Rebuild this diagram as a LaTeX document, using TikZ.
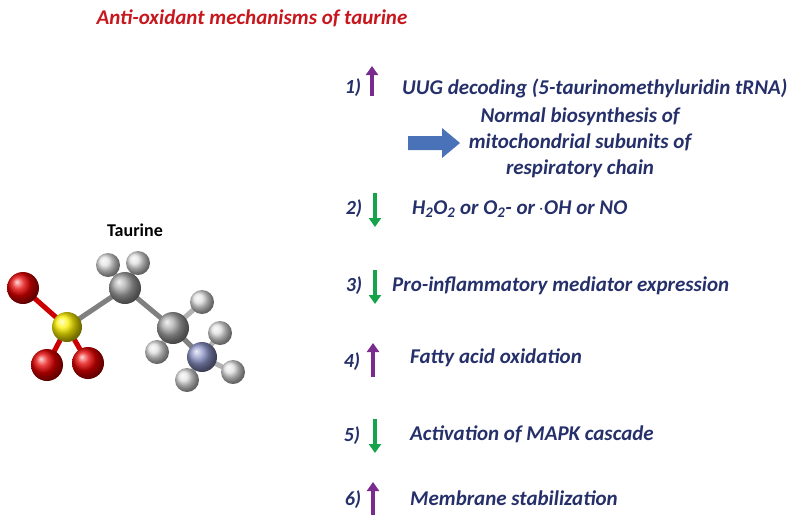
\documentclass[tikz,border=0pt]{standalone}
\usepackage{fontspec}
\setmainfont{Carlito}
\usetikzlibrary{arrows.meta}
\definecolor{navy}{HTML}{25306A}
\definecolor{titlered}{HTML}{C8161D}
\definecolor{upc}{HTML}{7A2C8E}
\definecolor{downc}{HTML}{16A34A}
\definecolor{bluearr}{HTML}{4A72B8}
\definecolor{nblue}{HTML}{8C94C8}
\tikzset{
  txt/.style={font=\fontsize{21}{25}\selectfont\bfseries\itshape, text=navy, anchor=west, inner sep=0pt},
  num/.style={font=\fontsize{20}{24}\selectfont\bfseries\itshape, text=navy, inner sep=0pt},
  up/.style={draw=upc, line width=4pt, -{Triangle[length=9pt,width=12pt]}},
  down/.style={draw=downc, line width=4pt, -{Triangle[length=9pt,width=12pt]}},
  atom/.style={circle, inner sep=0pt, minimum size=#1, draw=none},
  bond/.style={line width=5pt}
}
\begin{document}
\begin{tikzpicture}[x=1pt,y=-1pt]
\useasboundingbox (0,0) rectangle (800,520);
\node[font=\fontsize{21}{24}\selectfont\bfseries\itshape, text=titlered, anchor=west] (title) at (93,18) {Anti-oxidant mechanisms of taurine};
% molecule
\node[font=\fontsize{18}{20}\selectfont\bfseries] (lbl) at (135,230) {Taurine};
\coordinate (O1) at (23,288); \coordinate (S) at (67,327);
\coordinate (O2) at (47,365); \coordinate (O3) at (88,363);
\coordinate (C1) at (125,288); \coordinate (C2) at (173,328);
\coordinate (N) at (202,357);
\coordinate (H1) at (108,265); \coordinate (H2) at (138,263);
\coordinate (H3) at (202,302); \coordinate (H4) at (157,352);
\coordinate (H5) at (220,333); \coordinate (H6) at (233,372); \coordinate (H7) at (187,380);
\draw[bond, red!80!black] (O1) -- (S) (O2) -- (S) (O3) -- (S);
\draw[bond, gray] (S) -- (C1) -- (C2) -- (N);
\draw[bond, gray!60] (C1) -- (H1) (C1) -- (H2) (C2) -- (H3) (C2) -- (H4) (N) -- (H5) (N) -- (H6) (N) -- (H7);
\foreach \h in {H1,H2,H3,H5} \node[atom=24pt, ball color=gray!25] at (\h) {};
\node[atom=32pt, ball color=gray!70] (c1) at (C1) {};
\node[atom=32pt, ball color=gray!70] (c2) at (C2) {};
\node[atom=24pt, ball color=gray!25] at (H4) {};
\node[atom=30pt, ball color=nblue] (n) at (N) {};
\foreach \h in {H6,H7} \node[atom=24pt, ball color=gray!25] at (\h) {};
\node[atom=32pt, ball color=red!90!black] (o1) at (O1) {};
\node[atom=30pt, ball color=yellow!90!orange] (s) at (S) {};
\node[atom=32pt, ball color=red!90!black] (o2) at (O2) {};
\node[atom=32pt, ball color=red!90!black] (o3) at (O3) {};
% mechanisms
\node[num] (n1) at (353,88) {1)};
\coordinate (u1a) at (372,96); \coordinate (u1b) at (372,66);
\draw[up] (u1a) -- (u1b);
\node[txt] (t1) at (402,88) {UUG decoding (5-taurinomethyluridin tRNA)};
\fill[bluearr] (408,136) -- (442,136) -- (442,128) -- (460,143) -- (442,158) -- (442,150) -- (408,150) -- cycle;
\node[font=\fontsize{21}{26}\selectfont\bfseries\itshape, text=navy, align=center] (t1b) at (580,143) {Normal biosynthesis of\\mitochondrial subunits of\\respiratory chain};
\node[num] (n2) at (354,209) {2)};
\coordinate (d2a) at (375,193); \coordinate (d2b) at (375,227);
\draw[down] (d2a) -- (d2b);
\node[txt] (t2) at (412,209) {H\textsubscript{2}O\textsubscript{2} or O\textsubscript{2}- or\,$\cdot$OH or NO};
\node[num] (n3) at (354,286) {3)};
\coordinate (d3a) at (375,270); \coordinate (d3b) at (375,304);
\draw[down] (d3a) -- (d3b);
\node[txt] (t3) at (392,286) {Pro-inflammatory mediator expression};
\node[num] (n4) at (352,362) {4)};
\coordinate (u4a) at (373,377); \coordinate (u4b) at (373,343);
\draw[up] (u4a) -- (u4b);
\node[txt] (t4) at (410,358) {Fatty acid oxidation};
\node[num] (n5) at (352,436) {5)};
\coordinate (d5a) at (375,419); \coordinate (d5b) at (375,453);
\draw[down] (d5a) -- (d5b);
\node[txt] (t5) at (410,434) {Activation of MAPK cascade};
\node[num] (n6) at (353,500) {6)};
\coordinate (u6a) at (373,515); \coordinate (u6b) at (373,482);
\draw[up] (u6a) -- (u6b);
\node[txt] (t6) at (410,498) {Membrane stabilization};
\end{tikzpicture}
\end{document}
